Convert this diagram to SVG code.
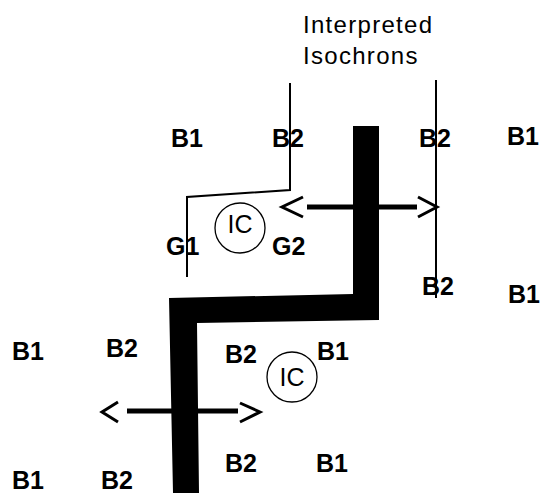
<svg xmlns="http://www.w3.org/2000/svg" width="542" height="493" viewBox="0 0 542 493">
<style>
.lbl{font-family:"Liberation Sans",Arial,sans-serif;font-weight:bold;font-size:25px;fill:#000}
.ttl{font-family:"Liberation Sans",Arial,sans-serif;font-size:24px;fill:#000;letter-spacing:1.3px}
.ic{font-family:"Liberation Sans",Arial,sans-serif;font-size:25px;fill:#000;text-anchor:middle}
.iso{fill:none;stroke:#000;stroke-width:2}
.shaft{stroke:#000;stroke-width:5;fill:none}
.chev{stroke:#000;stroke-width:3;fill:none}
.circ{fill:none;stroke:#000;stroke-width:1.3}
</style>
<rect width="542" height="493" fill="#fff"/>
<g id="title">
<text class="ttl" x="303" y="33">Interpreted</text>
<text class="ttl" x="303" y="64">Isochrons</text>
</g>
<g id="boundary">
<polygon points="353,126 379,126 379,320 197,323 199,493 173,493 169,298 353,294" fill="#000"/>
</g>
<g id="connectors">
<polyline class="iso" points="290,83 290,190 187,197 187,277"/>
<line class="iso" x1="436" y1="80" x2="436" y2="298"/>
<line class="shaft" x1="307" y1="207" x2="417" y2="207"/>
<polyline class="chev" points="303,197 282,207 303,217"/>
<polyline class="chev" points="418,197 437,207 418,217"/>
<line class="shaft" x1="127" y1="411" x2="238" y2="411"/>
<polyline class="chev" points="118,402 102,412 118,422"/>
<polyline class="chev" points="240,403 260,412 240,422"/>
</g>
<g id="ic1"><circle class="circ" cx="240" cy="228" r="25"/><text class="ic" x="240" y="233">IC</text></g>
<g id="ic2"><circle class="circ" cx="292" cy="377" r="25"/><text class="ic" x="292" y="386">IC</text></g>
<g id="labels">
<text class="lbl" x="171" y="147">B1</text>
<text class="lbl" x="272" y="147">B2</text>
<text class="lbl" x="419" y="147">B2</text>
<text class="lbl" x="507" y="145">B1</text>
<text class="lbl" x="166" y="255">G1</text>
<text class="lbl" x="272" y="255">G2</text>
<text class="lbl" x="422" y="295">B2</text>
<text class="lbl" x="508" y="303">B1</text>
<text class="lbl" x="12" y="360">B1</text>
<text class="lbl" x="106" y="357">B2</text>
<text class="lbl" x="225" y="363">B2</text>
<text class="lbl" x="317" y="360">B1</text>
<text class="lbl" x="12" y="489">B1</text>
<text class="lbl" x="101" y="489">B2</text>
<text class="lbl" x="225" y="472">B2</text>
<text class="lbl" x="316" y="472">B1</text>
</g>
</svg>
